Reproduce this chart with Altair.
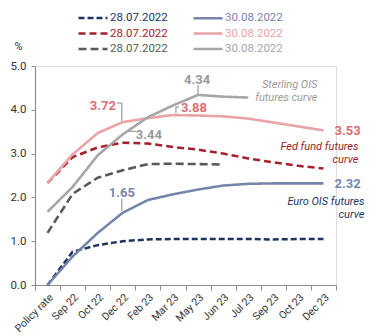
import altair as alt
import pandas as pd

cats = ["Policy rate", "Sep 22", "Oct 22", "Dec 22", "Feb 23", "Mar 23",
        "May 23", "Jun 23", "Jul 23", "Sep 23", "Oct 23", "Dec 23"]

euro_0728 = [0.00, 0.76, 0.91, 1.00, 1.04, 1.05, 1.05, 1.05, 1.05, 1.04, 1.05, 1.05]
euro_0830 = [0.00, 0.65, 1.19, 1.65, 1.94, 2.07, 2.18, 2.27, 2.31, 2.32, 2.32, 2.32]
fed_0728 = [2.33, 2.92, 3.14, 3.25, 3.23, 3.15, 3.09, 3.00, 2.89, 2.80, 2.72, 2.66]
fed_0830 = [2.33, 2.98, 3.47, 3.72, 3.81, 3.88, 3.87, 3.85, 3.80, 3.71, 3.62, 3.53]
sterling_0728 = [1.19, 2.08, 2.45, 2.62, 2.76, 2.77, 2.76, 2.75, None, None, None, None]
sterling_0830 = [1.67, 2.24, 2.96, 3.44, 3.83, 4.10, 4.34, 4.30, 4.28, None, None, None]

# legend is laid out column by column: first column = 28.07.2022 curves
series_names = ["A|28.07.2022", "C|28.07.2022", "E|28.07.2022",
                "B|30.08.2022", "D|30.08.2022", "F|30.08.2022"]
series_values = [euro_0728, fed_0728, sterling_0728, euro_0830, fed_0830, sterling_0830]
series_colors = ["#1d3461", "#a3202c", "#595959", "#7584ab", "#e9a3a6", "#a6a6a6"]
series_dash = [[6, 3], [7, 4], [8, 4], [1, 0], [1, 0], [1, 0]]
series_width = [2.5, 2.6, 2.6, 2.2, 2.2, 2.4]

curve_notes = [
    ("Sterling OIS", "futures curve"),
    ("Fed fund futures", "curve"),
    ("Euro OIS futures", "curve"),
]

FONT = "Liberation Sans Narrow, Roboto, sans-serif"

rows = []
for name, vals in zip(series_names, series_values):
    for c, v in zip(cats, vals):
        if v is not None:
            rows.append({"cat": c, "series": name, "value": v})
df = pd.DataFrame(rows)

xscale = alt.Scale(domain=cats, type="band", paddingInner=0, paddingOuter=0)
yscale = alt.Scale(domain=[0, 5], nice=False)

x_enc = alt.X("cat:N", scale=xscale, sort=cats, title=None,
              axis=alt.Axis(tickBand="extent", labelAngle=-45, tickSize=5,
                            labelPadding=2, labelFontSize=10.5, labelFont=FONT,
                            labelColor="#333333", domainColor="#8c8c8c",
                            tickColor="#8c8c8c", domainWidth=1.2, grid=False))
y_enc = alt.Y("value:Q", scale=yscale,
              axis=alt.Axis(values=[0, 0.5, 1, 1.5, 2, 2.5, 3, 3.5, 4, 4.5, 5],
                            format=".1f", tickSize=4, labelPadding=5,
                            labelFontSize=11.5, labelFont=FONT, labelColor="#333333",
                            domainColor="#8c8c8c", tickColor="#8c8c8c",
                            domainWidth=1.2, grid=False,
                            title="%", titleAngle=0, titleX=-17, titleY=-20,
                            titleFont=FONT, titleFontSize=11,
                            titleFontWeight="normal", titleColor="#333333",
                            titleBaseline="middle"))

legend = alt.Legend(orient="none", legendX=49, legendY=-57, columns=2,
                    title=None, symbolType="M-2,0H2", symbolSize=210,
                    symbolStrokeWidth=2.5, symbolFillColor="transparent",
                    labelFont=FONT, labelFontSize=11.5,
                    labelOffset=8, rowPadding=0.5, columnPadding=20,
                    labelExpr="split(datum.label, '|')[1]",
                    labelColor={"expr": "scale('color', datum.value)"})

lines = alt.Chart(df).mark_line(interpolate="linear").encode(
    x=x_enc,
    y=y_enc,
    color=alt.Color("series:N", scale=alt.Scale(domain=series_names, range=series_colors),
                    legend=legend),
    strokeDash=alt.StrokeDash("series:N", scale=alt.Scale(domain=series_names, range=series_dash),
                              legend=legend),
    strokeWidth=alt.StrokeWidth("series:N", scale=alt.Scale(domain=series_names, range=series_width),
                                legend=None),
)

layers = [lines]

LBL_FONT_SIZE = 13


def value_label(vals, idx, color, dx, dy, align="center"):
    d = pd.DataFrame({"cat": [cats[idx]], "value": [vals[idx]],
                      "txt": [f"{vals[idx]:.2f}"]})
    return alt.Chart(d).mark_text(font=FONT, fontSize=LBL_FONT_SIZE, fontWeight="bold",
                                  color=color, dx=dx, dy=dy, align=align,
                                  baseline="middle").encode(
        x=alt.X("cat:N", scale=xscale, sort=cats),
        y=alt.Y("value:Q", scale=yscale),
        text="txt:N")


def leader_v(vals, idx, color, xo, y_top, y_bot):
    d = pd.DataFrame({"cat": [cats[idx]], "value": [vals[idx]]})
    return alt.Chart(d).mark_rule(color=color, strokeWidth=1.2, xOffset=xo,
                                  x2Offset=xo, yOffset=y_top, y2Offset=y_bot).encode(
        x=alt.X("cat:N", scale=xscale, sort=cats),
        y=alt.Y("value:Q", scale=yscale),
        y2="value:Q")


def leader_h(vals, idx, color, yo, x_left, x_right):
    d = pd.DataFrame({"cat": [cats[idx]], "value": [vals[idx]]})
    return alt.Chart(d).mark_rule(color=color, strokeWidth=1.2, xOffset=x_left,
                                  x2Offset=x_right, yOffset=yo, y2Offset=yo).encode(
        x=alt.X("cat:N", scale=xscale, sort=cats),
        x2="cat:N",
        y=alt.Y("value:Q", scale=yscale))


PINK_T = "#dd6e74"
GREY_T = "#9a9a9a"
BLUE_T = "#7887ae"

layers += [
    value_label(fed_0830, 3, PINK_T, -20, -16),
    leader_v(fed_0830, 3, GREY_T, -1, -19, -1),
    leader_h(fed_0830, 3, GREY_T, -19, -6, -1),
    value_label(fed_0830, 5, PINK_T, 21, -7),
    leader_v(fed_0830, 5, GREY_T, 3, -8, -2),
    leader_h(fed_0830, 5, GREY_T, -8, 3, 6),
    value_label(fed_0830, 11, PINK_T, 11, 1, "left"),
    value_label(sterling_0830, 6, GREY_T, -1, -15),
    leader_v(sterling_0830, 6, GREY_T, 0, -10, -1),
    value_label(sterling_0830, 3, GREY_T, 26, 1),
    leader_h(sterling_0830, 3, GREY_T, -3, 6, 13),
    value_label(euro_0830, 3, BLUE_T, -1, -20),
    leader_v(euro_0830, 3, GREY_T, -1, -14, -2),
    value_label(euro_0830, 11, BLUE_T, 11, 1, "left"),
]

note_styles = [
    ("#9a9a9a", cats[11], 4.56, -6),
    ("#9b1c28", cats[11], 3.14, 35),
    ("#1d3461", cats[11], 1.89, 41),
]
for (l1, l2), (col, cat, yv, dx) in zip(curve_notes, note_styles):
    d = pd.DataFrame({"cat": [cat], "value": [yv], "txt": [[l1, l2]]})
    layers.append(
        alt.Chart(d).mark_text(font=FONT, fontSize=11, fontStyle="italic", color=col,
                               align="right", baseline="middle", dx=dx,
                               lineHeight=13).encode(
            x=alt.X("cat:N", scale=xscale, sort=cats),
            y=alt.Y("value:Q", scale=yscale),
            text="txt"))

chart = alt.layer(*layers).properties(
    width=301, height=219,
    autosize=alt.AutoSizeParams(type="none"),
    padding={"left": 35, "top": 66, "right": 42, "bottom": 51},
).configure_view(stroke=None).configure(background="white")

chart.save("out.html", embed_options={"renderer": "svg", "actions": False})
